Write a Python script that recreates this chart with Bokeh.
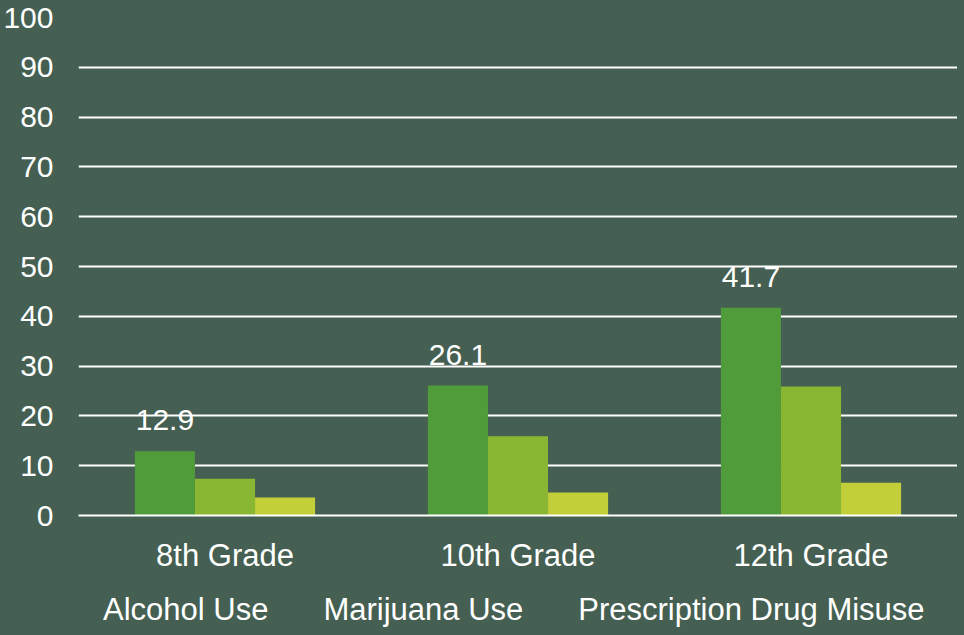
from bokeh.plotting import figure
from bokeh.layouts import column
from bokeh.models import (ColumnDataSource, FactorRange, Range1d, Legend, LegendItem,
                          LabelSet, FixedTicker)
from bokeh.core.properties import value
from bokeh.transform import dodge
from bokeh.embed import file_html
from bokeh.resources import INLINE

grades = ["8th Grade", "10th Grade", "12th Grade"]
alcohol = [12.9, 26.1, 41.7]
marijuana = [7.4, 15.9, 25.9]
prescription = [3.6, 4.6, 6.6]
alcohol_labels = ["12.9", "26.1", "41.7"]
series_names = ["Alcohol Use", "Marijuana Use", "Prescription Drug Misuse"]
y_ticks = [0, 10, 20, 30, 40, 50, 60, 70, 80, 90, 100]

BG = "#455f52"
COLORS = ["#519c3a", "#8ab733", "#c3cf39"]
FONT = "Liberation Sans"
FS_TICK = "30px"
FS_CAT = "31px"

source = ColumnDataSource(dict(grade=grades, alcohol=alcohol, marijuana=marijuana,
                               prescription=prescription, label=alcohol_labels))

# ---- main chart ----
p = figure(width=948, height=566, output_backend="svg", toolbar_location=None,
           x_range=FactorRange(factors=grades, range_padding=0),
           y_range=Range1d(0, 100),
           frame_width=879, frame_height=498,
           min_border_left=69, min_border_right=0, min_border_top=17, min_border_bottom=0)
p.background_fill_color = BG
p.border_fill_color = BG
p.outline_line_color = None

W = 0.205
p.vbar(x=dodge("grade", -W, range=p.x_range), top="alcohol", width=W, source=source,
       fill_color=COLORS[0], line_color=None)
p.vbar(x=dodge("grade", 0, range=p.x_range), top="marijuana", width=W, source=source,
       fill_color=COLORS[1], line_color=None)
p.vbar(x=dodge("grade", W, range=p.x_range), top="prescription", width=W, source=source,
       fill_color=COLORS[2], line_color=None)

labels = LabelSet(x=dodge("grade", -W, range=p.x_range), y="alcohol", text="label",
                  source=source, y_offset=21, text_align="center", text_baseline="alphabetic",
                  text_color="white", text_font=value(FONT), text_font_size=value(FS_TICK))
p.add_layout(labels)

p.xgrid.grid_line_color = None
p.ygrid.grid_line_color = "white"
p.ygrid.grid_line_width = 2
p.ygrid.ticker = FixedTicker(ticks=y_ticks)

p.yaxis.ticker = FixedTicker(ticks=y_ticks)
p.yaxis.axis_line_color = None
p.yaxis.major_tick_line_color = None
p.yaxis.minor_tick_line_color = None
p.yaxis.major_label_standoff = 19
p.yaxis.major_label_text_color = "white"
p.yaxis.major_label_text_font = FONT
p.yaxis.major_label_text_font_size = FS_TICK

p.xaxis.axis_line_color = "white"
p.xaxis.axis_line_width = 2
p.xaxis.major_tick_line_color = None
p.xaxis.minor_tick_line_color = None
p.xaxis.major_label_standoff = 16
p.xaxis.major_label_text_color = "white"
p.xaxis.major_label_text_font = FONT
p.xaxis.major_label_text_font_size = FS_CAT

# ---- legend strip ----
q = figure(width=948, height=53, output_backend="svg", toolbar_location=None,
           x_range=FactorRange(factors=grades, range_padding=0),
           y_range=Range1d(0, 1),
           min_border_left=0, min_border_right=0, min_border_top=0, min_border_bottom=0)
q.background_fill_color = BG
q.border_fill_color = BG
q.outline_line_color = None
q.axis.visible = False
q.grid.visible = False

empty = ColumnDataSource(dict(grade=[], top=[]))
l1 = q.vbar(x="grade", top="top", width=W, source=empty, fill_color=COLORS[0], line_color=None)
l2 = q.vbar(x="grade", top="top", width=W, source=empty, fill_color=COLORS[1], line_color=None)
l3 = q.vbar(x="grade", top="top", width=W, source=empty, fill_color=COLORS[2], line_color=None)

legend = Legend(items=[LegendItem(label=series_names[0], renderers=[l1]),
                       LegendItem(label=series_names[1], renderers=[l2]),
                       LegendItem(label=series_names[2], renderers=[l3])],
                orientation="horizontal", location=(0, 0),
                glyph_width=19, glyph_height=19, label_standoff=6, spacing=30,
                padding=0, margin=0, border_line_color=None, background_fill_alpha=0,
                label_text_color="white", label_text_font=FONT, label_text_font_size=FS_CAT)
q.add_layout(legend)

layout = column(p, q, spacing=0)
html = file_html(layout, INLINE)
head, sep, rest = html.partition("</head>")
if sep:
    rest = rest.replace("<body>", '<body style="background-color:%s;">' % BG, 1)
    html = head + sep + rest
open("out.html", "w").write(html)
